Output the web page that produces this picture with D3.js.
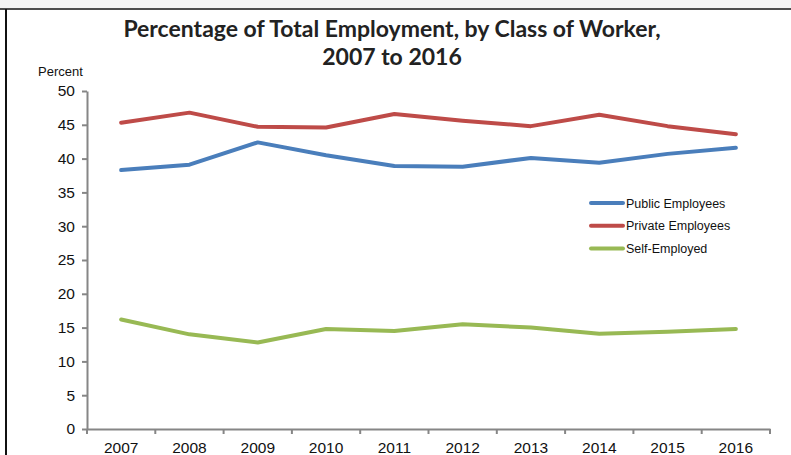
<!DOCTYPE html>
<html>
<head>
<meta charset="utf-8">
<script src="https://cdn.jsdelivr.net/npm/d3@7"></script>
<style>
  body { margin: 0; background: #fff; }
  svg { display: block; }
</style>
</head>
<body>
<script>
var years = ['2007', '2008', '2009', '2010', '2011', '2012', '2013', '2014', '2015', '2016'];
var publicValues = [38.3, 39.1, 42.4, 40.5, 38.9, 38.8, 40.1, 39.4, 40.7, 41.6];
var privateValues = [45.3, 46.8, 44.7, 44.6, 46.6, 45.6, 44.8, 46.5, 44.8, 43.6];
var selfValues = [16.2, 14.0, 12.8, 14.8, 14.5, 15.5, 15.0, 14.1, 14.4, 14.8];
var yTicks = [0, 5, 10, 15, 20, 25, 30, 35, 40, 45, 50];

var series = [
  { name: 'Public Employees', values: publicValues, color: '#4a7ebb' },
  { name: 'Private Employees', values: privateValues, color: '#be4b48' },
  { name: 'Self-Employed', values: selfValues, color: '#98b954' }
];

var width = 791;
var height = 455;
var margin = { left: 87, right: 21, top: 91, bottom: 26 };

var svg = d3.select('body')
  .append('svg')
  .attr('width', width)
  .attr('height', height);

// grey strip and frame at the top, like the scanned page
svg.append('rect')
  .attr('x', 0).attr('y', 0)
  .attr('width', width).attr('height', 8)
  .style('fill', '#f3f3f3');
svg.append('line')
  .attr('x1', 0).attr('x2', width)
  .attr('y1', 9).attr('y2', 9)
  .style('stroke', '#111').style('stroke-width', 1.5);
svg.append('line')
  .attr('x1', 6).attr('x2', 6)
  .attr('y1', 9).attr('y2', height)
  .style('stroke', '#111').style('stroke-width', 2);

// title
var title = svg.append('text')
  .attr('text-anchor', 'middle')
  .style('font-family', 'Lato, "Open Sans", sans-serif')
  .style('font-weight', 'bold')
  .style('font-size', '23px')
  .style('fill', '#222');
title.append('tspan').attr('x', 392).attr('y', 37)
  .text('Percentage of Total Employment, by Class of Worker,');
title.append('tspan').attr('x', 392).attr('y', 65)
  .text('2007 to 2016');

var x = d3.scaleBand()
  .domain(years)
  .range([margin.left, width - margin.right]);

var y = d3.scaleLinear()
  .domain([0, 50])
  .range([height - margin.bottom, margin.top]);

// y axis
var yAxis = svg.append('g')
  .attr('transform', 'translate(' + margin.left + ',0)')
  .call(d3.axisLeft(y).tickValues(yTicks).tickSize(5).tickPadding(7).tickSizeOuter(0));

// x axis
var xAxis = svg.append('g')
  .attr('transform', 'translate(0,' + (height - margin.bottom) + ')')
  .call(d3.axisBottom(x).tickSize(0).tickPadding(13));

// category boundary ticks
var bounds = years.map(function(d) { return x(d); }).concat([x.range()[1]]);
xAxis.selectAll('.bound')
  .data(bounds)
  .enter().append('line')
  .attr('class', 'bound')
  .attr('x1', function(d) { return d; })
  .attr('x2', function(d) { return d; })
  .attr('y1', 0).attr('y2', 5);

[yAxis, xAxis].forEach(function(a) {
  a.select('.domain').style('stroke', '#868686').style('stroke-width', 2);
  a.selectAll('line').style('stroke', '#868686').style('stroke-width', 2);
  a.selectAll('text')
    .style('font-family', '"Liberation Sans", Arial, sans-serif')
    .style('font-size', '15.5px')
    .style('fill', '#111');
});

svg.append('text')
  .attr('x', 38).attr('y', 76)
  .style('font-family', '"Liberation Sans", Arial, sans-serif')
  .style('font-size', '13px')
  .style('fill', '#111')
  .text('Percent');

// lines
var line = d3.line()
  .x(function(d, i) { return x(years[i]) + x.bandwidth() / 2; })
  .y(function(d) { return y(d); });

svg.selectAll('.series')
  .data(series)
  .enter().append('path')
  .attr('class', 'series')
  .attr('d', function(d) { return line(d.values); })
  .style('fill', 'none')
  .style('stroke', function(d) { return d.color; })
  .style('stroke-width', 4)
  .style('stroke-linecap', 'round')
  .style('stroke-linejoin', 'round');

// legend
var legend = svg.selectAll('.legend')
  .data(series)
  .enter().append('g')
  .attr('class', 'legend')
  .attr('transform', function(d, i) { return 'translate(591,' + (203 + i * 22.8) + ')'; });

legend.append('line')
  .attr('x1', 0).attr('x2', 32)
  .attr('y1', 0).attr('y2', 0)
  .style('stroke', function(d) { return d.color; })
  .style('stroke-width', 4)
  .style('stroke-linecap', 'round');

legend.append('text')
  .attr('x', 35).attr('y', 4.5)
  .style('font-family', '"Liberation Sans", Arial, sans-serif')
  .style('font-size', '12.5px')
  .style('fill', '#111')
  .text(function(d) { return d.name; });
</script>
</body>
</html>
